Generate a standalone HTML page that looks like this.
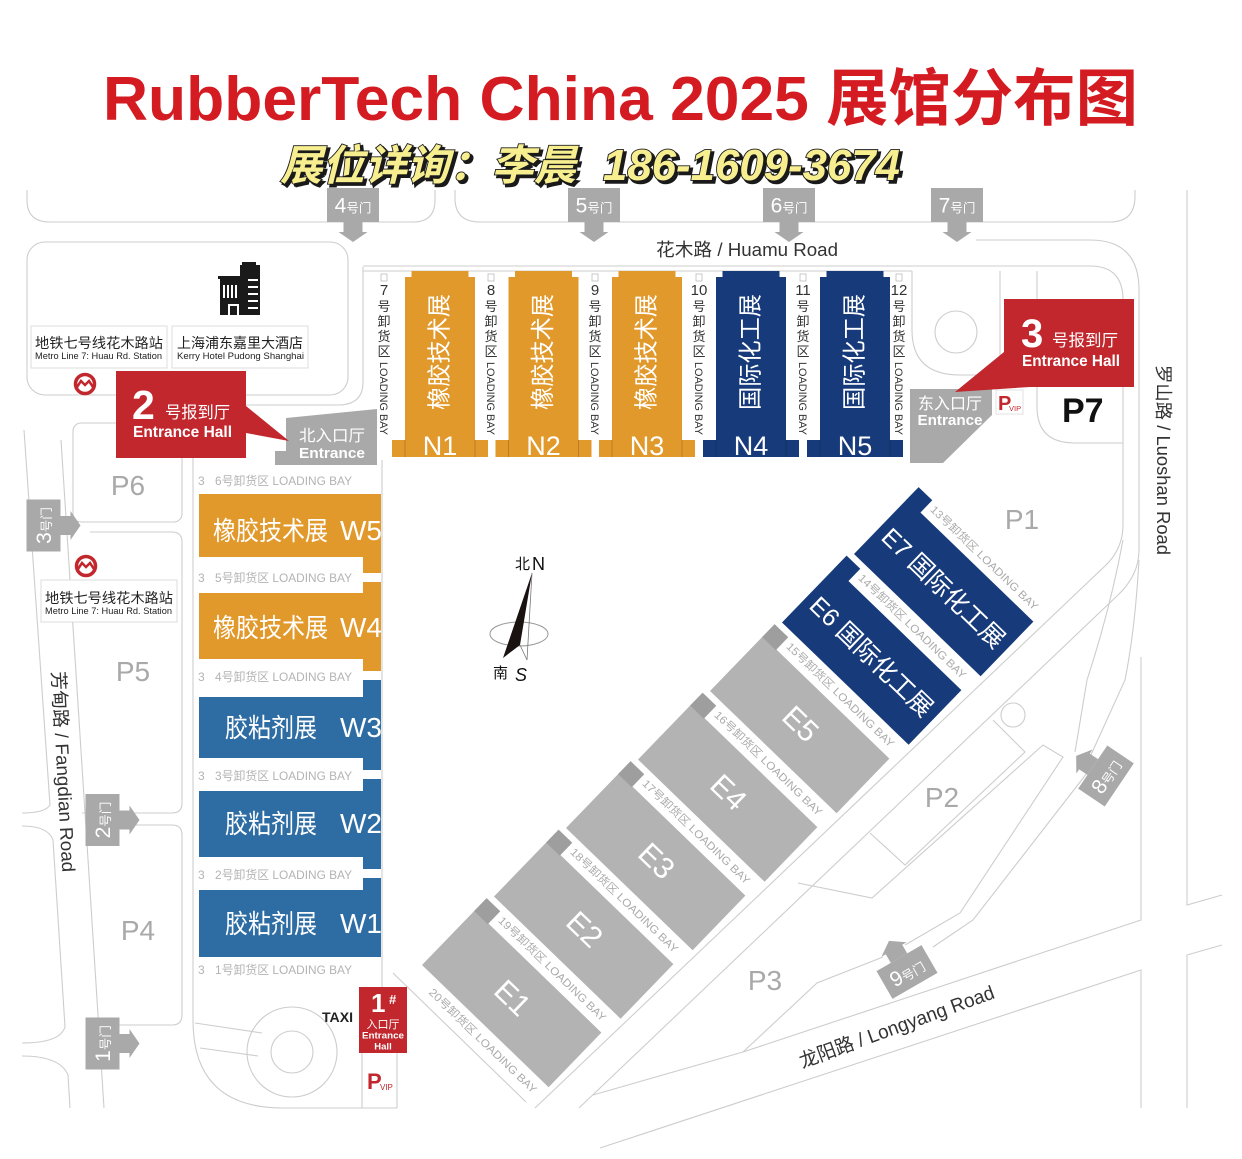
<!DOCTYPE html>
<html><head><meta charset="utf-8">
<style>
html,body{margin:0;padding:0;background:#fff;}
svg{display:block;}
text{font-family:"Liberation Sans","Noto Sans CJK SC",sans-serif;}
</style></head><body>
<svg width="1242" height="1159" viewBox="0 0 1242 1159" xmlns="http://www.w3.org/2000/svg">
<rect width="1242" height="1159" fill="#fff"/>

<!-- TITLE -->
<text x="103" y="120" font-size="62" font-weight="bold" fill="#d41b22" textLength="1035" lengthAdjust="spacingAndGlyphs">RubberTech China 2025 展馆分布图</text>
<g font-style="italic" font-weight="bold">
  <text x="282.5" y="182.5" font-size="42" fill="#1a1a1a" stroke="#1a1a1a" stroke-width="2.5" textLength="296" lengthAdjust="spacingAndGlyphs">展位详询：李晨</text>
  <text x="605.5" y="182.5" font-size="44" fill="#1a1a1a" stroke="#1a1a1a" stroke-width="2.5" textLength="297" lengthAdjust="spacingAndGlyphs">186-1609-3674</text>
  <text x="280" y="180" font-size="42" fill="#f7ee90" stroke="#1a1a1a" stroke-width="1.8" paint-order="stroke" textLength="296" lengthAdjust="spacingAndGlyphs">展位详询：李晨</text>
  <text x="603" y="180" font-size="44" fill="#f7ee90" stroke="#1a1a1a" stroke-width="1.8" paint-order="stroke" textLength="297" lengthAdjust="spacingAndGlyphs">186-1609-3674</text>
</g>

<!-- ROAD LINES -->
<g fill="none" stroke="#cdcdcd" stroke-width="1.1">
  <path d="M27,190 V200 Q27,222 50,222 H413 Q435,222 435,200 V190"/>
  <path d="M455,190 V198 Q455,222 480,222 H1110 Q1135,222 1135,196 V190"/>
  <rect x="27" y="242" width="321" height="153" rx="18"/>
  <path d="M363,267 V382 Q363,405 338,405 H213 Q193,405 193,425 V1020 Q193,1108 283,1108 H397"/>
  <path d="M363,266 H1090 Q1123,266 1123,300 V525 Q1123,549 1105,566 L535,1108"/>
  <path d="M363,271 H912"/>
  <path d="M976,240 H1090 Q1139,240 1139,290 V550 Q1139,575 1118,595 L579,1108"/>
  <path d="M912,271 V330 Q912,375 960,375 H1000 V271"/>
  <circle cx="956" cy="332" r="21"/>
  <path d="M1037,271 V407 Q1037,443 1075,443 H1123"/>
  <path d="M1187,190 V905 L1222,895 M1187,1108 V955 L1222,945"/>
  <path d="M1141,657 V920 L743,1052 L593,1095 M1141,1108 V970 L600,1148"/>
  <path d="M870,833 L905,865 L1025,752 L993,720"/>
  <path d="M798,883 L872,898 L1043,745 L1063,757 L960,913 L905,945"/>
  <path d="M1123,540 Q1110,610 1087,680 L1075,752 M1139,560 Q1135,630 1125,680 L1090,757 M1087,773 L973,920 L933,947"/>
  <circle cx="1013" cy="715" r="12"/>
  <path d="M743,1052 L817,983 L883,957"/>
  <!-- Fangdian road -->
  <path d="M24,430 L50,805 Q45,813 22,813 M22,826 Q48,826 53,840 L65,1027 Q60,1043 22,1043 M22,1056 Q60,1056 68,1075 L70,1108"/>
  <path d="M61,440 L104,1108"/>
  <rect x="73" y="423" width="109" height="99" rx="8"/>
  <path d="M90,532 H172 Q182,532 182,542 V803 Q182,813 172,813 H82"/>
  <path d="M88,825 H172 Q182,825 182,835 V1015 Q182,1025 172,1025 H100"/>
  <!-- roundabout entrance 1 -->
  <circle cx="292" cy="1052" r="45"/>
  <circle cx="292" cy="1052" r="21"/>
  <path d="M195,1023 L262,1033 M200,1048 L258,1056"/>
  <path d="M382,460 V987 M362,1053 V1108 M397,1050 V1108"/>
  <path d="M393,973 L526,1102"/>
</g>

<!-- GATES -->
<g fill="#a9a9a9">
  <g transform="translate(353,205)"><rect x="-26" y="-17" width="52" height="34"/><polygon points="-9.5,17 9.5,17 9.5,27 14.5,27 0,37 -14.5,27 -9.5,27"/><text x="0" y="7.5" text-anchor="middle" fill="#fff"><tspan font-size="21">4</tspan><tspan font-size="12.5">号门</tspan></text></g>
  <g transform="translate(594,205)"><rect x="-26" y="-17" width="52" height="34"/><polygon points="-9.5,17 9.5,17 9.5,27 14.5,27 0,37 -14.5,27 -9.5,27"/><text x="0" y="7.5" text-anchor="middle" fill="#fff"><tspan font-size="21">5</tspan><tspan font-size="12.5">号门</tspan></text></g>
  <g transform="translate(789,205)"><rect x="-26" y="-17" width="52" height="34"/><polygon points="-9.5,17 9.5,17 9.5,27 14.5,27 0,37 -14.5,27 -9.5,27"/><text x="0" y="7.5" text-anchor="middle" fill="#fff"><tspan font-size="21">6</tspan><tspan font-size="12.5">号门</tspan></text></g>
  <g transform="translate(957,205)"><rect x="-26" y="-17" width="52" height="34"/><polygon points="-9.5,17 9.5,17 9.5,27 14.5,27 0,37 -14.5,27 -9.5,27"/><text x="0" y="7.5" text-anchor="middle" fill="#fff"><tspan font-size="21">7</tspan><tspan font-size="12.5">号门</tspan></text></g>
  <g transform="translate(43.5,525.5) rotate(-90)"><rect x="-26" y="-17" width="52" height="34"/><polygon points="-9.5,17 9.5,17 9.5,27 14.5,27 0,37 -14.5,27 -9.5,27"/><text x="0" y="7.5" text-anchor="middle" fill="#fff"><tspan font-size="21">3</tspan><tspan font-size="12.5">号门</tspan></text></g>
  <g transform="translate(102.5,820) rotate(-90)"><rect x="-26" y="-17" width="52" height="34"/><polygon points="-9.5,17 9.5,17 9.5,27 14.5,27 0,37 -14.5,27 -9.5,27"/><text x="0" y="7.5" text-anchor="middle" fill="#fff"><tspan font-size="21">2</tspan><tspan font-size="12.5">号门</tspan></text></g>
  <g transform="translate(102.5,1043.5) rotate(-90)"><rect x="-26" y="-17" width="52" height="34"/><polygon points="-9.5,17 9.5,17 9.5,27 14.5,27 0,37 -14.5,27 -9.5,27"/><text x="0" y="7.5" text-anchor="middle" fill="#fff"><tspan font-size="21">1</tspan><tspan font-size="12.5">号门</tspan></text></g>
  <g transform="translate(1106,776) rotate(-56)"><rect x="-26" y="-16" width="52" height="32"/><polygon points="-9.5,-16 9.5,-16 9.5,-26 14.5,-26 0,-36 -14.5,-26 -9.5,-26"/><text x="0" y="7.5" text-anchor="middle" fill="#fff"><tspan font-size="21">8</tspan><tspan font-size="12.5">号门</tspan></text></g>
  <g transform="translate(907,972) rotate(-30)"><rect x="-26" y="-16" width="52" height="32"/><polygon points="-9.5,-16 9.5,-16 9.5,-26 14.5,-26 0,-36 -14.5,-26 -9.5,-26"/><text x="0" y="7.5" text-anchor="middle" fill="#fff"><tspan font-size="21">9</tspan><tspan font-size="12.5">号门</tspan></text></g>
</g>

<!-- ROAD NAMES -->
<text x="656" y="256" font-size="18" fill="#333" textLength="182" lengthAdjust="spacingAndGlyphs">花木路 / Huamu Road</text>
<text transform="translate(1157,460) rotate(90)" x="0" y="0" text-anchor="middle" font-size="18" fill="#333" textLength="190" lengthAdjust="spacingAndGlyphs">罗山路 / Luoshan Road</text>
<text transform="translate(57,772) rotate(87)" x="0" y="0" text-anchor="middle" font-size="18.5" fill="#333" textLength="201" lengthAdjust="spacingAndGlyphs">芳甸路 / Fangdian Road</text>
<text transform="translate(899,1033) rotate(-20)" x="0" y="0" text-anchor="middle" font-size="19.5" fill="#333" textLength="206" lengthAdjust="spacingAndGlyphs">龙阳路 / Longyang Road</text>

<!-- LEFT BLOCK: hotel + metro -->
<g fill="#1a1a1a">
  <rect x="240" y="265" width="20" height="50"/>
  <rect x="242" y="262" width="14" height="3"/>
  <rect x="220" y="278" width="22" height="37"/>
  <rect x="218" y="276" width="25" height="3"/>
</g>
<g fill="#fff">
  <rect x="223" y="285" width="2" height="13"/><rect x="227" y="285" width="2" height="13"/><rect x="231" y="285" width="2" height="13"/><rect x="235" y="285" width="2" height="13"/>
  <rect x="228" y="304" width="11" height="11"/>
  <rect x="248" y="279" width="10" height="2"/><rect x="248" y="286" width="10" height="2"/><rect x="248" y="293" width="10" height="2"/><rect x="248" y="300" width="10" height="2"/><rect x="248" y="307" width="10" height="2"/>
</g>
<rect x="230" y="306" width="7" height="9" fill="#1a1a1a"/>
<rect x="31" y="326" width="136" height="42" fill="#fff" stroke="#dcdcdc"/>
<rect x="172" y="326" width="136" height="42" fill="#fff" stroke="#dcdcdc"/>
<text x="35" y="348" font-size="14" fill="#222" textLength="128" lengthAdjust="spacingAndGlyphs">地铁七号线花木路站</text>
<text x="35" y="359" font-size="9.5" fill="#222" textLength="127" lengthAdjust="spacingAndGlyphs">Metro Line 7: Huau Rd. Station</text>
<text x="177" y="348" font-size="14" fill="#222" textLength="126" lengthAdjust="spacingAndGlyphs">上海浦东嘉里大酒店</text>
<text x="177" y="359" font-size="9.5" fill="#222" textLength="127" lengthAdjust="spacingAndGlyphs">Kerry Hotel Pudong Shanghai</text>
<circle cx="85" cy="384" r="9.5" fill="#fff" stroke="#c1272d" stroke-width="3.5"/>
<path d="M77,387 L81,381 L85,385 L89,381 L93,387" fill="none" stroke="#c1272d" stroke-width="2.5"/>
<circle cx="86" cy="566" r="9.5" fill="#fff" stroke="#c1272d" stroke-width="3.5"/>
<path d="M78,569 L82,563 L86,567 L90,563 L94,569" fill="none" stroke="#c1272d" stroke-width="2.5"/>
<rect x="41" y="580" width="136" height="42" fill="#fff" stroke="#dcdcdc"/>
<text x="45" y="603" font-size="14" fill="#222" textLength="128" lengthAdjust="spacingAndGlyphs">地铁七号线花木路站</text>
<text x="45" y="614" font-size="9.5" fill="#222" textLength="127" lengthAdjust="spacingAndGlyphs">Metro Line 7: Huau Rd. Station</text>

<!-- P labels -->
<g fill="#a9a9a9" font-size="28" text-anchor="middle">
  <text x="128" y="495">P6</text>
  <text x="133" y="681">P5</text>
  <text x="138" y="940">P4</text>
  <text x="1022" y="529">P1</text>
  <text x="942" y="807">P2</text>
  <text x="765" y="990">P3</text>
</g>
<text x="1062" y="422" font-size="34" font-weight="bold" fill="#111">P7</text>

<!-- N HALLS -->
<g>
  <g fill="#e2992b">
    <rect x="411.5" y="271" width="57" height="7"/><rect x="405" y="277" width="70" height="164"/><rect x="392" y="440" width="96" height="17"/>
    <rect x="515" y="271" width="57" height="7"/><rect x="508.5" y="277" width="70" height="164"/><rect x="495.5" y="440" width="96" height="17"/>
    <rect x="618.5" y="271" width="57" height="7"/><rect x="612" y="277" width="70" height="164"/><rect x="599" y="440" width="96" height="17"/>
  </g>
  <g fill="#173b7a">
    <rect x="722.5" y="271" width="57" height="7"/><rect x="716" y="277" width="70" height="164"/><rect x="703" y="440" width="96" height="17"/>
    <rect x="826.5" y="271" width="57" height="7"/><rect x="820" y="277" width="70" height="164"/><rect x="807" y="440" width="96" height="17"/>
  </g>
  <g stroke="rgba(0,0,0,0.18)" stroke-width="1">
    <path d="M405,440 V457 M475,440 V457 M508.5,440 V457 M578.5,440 V457 M612,440 V457 M682,440 V457 M716,440 V457 M786,440 V457 M820,440 V457 M890,440 V457"/>
  </g>
  <g fill="#fff" font-size="24" text-anchor="middle" dominant-baseline="central">
    <text transform="translate(440,352) rotate(-90)" textLength="116" lengthAdjust="spacingAndGlyphs">橡胶技术展</text>
    <text transform="translate(543.5,352) rotate(-90)" textLength="116" lengthAdjust="spacingAndGlyphs">橡胶技术展</text>
    <text transform="translate(647,352) rotate(-90)" textLength="116" lengthAdjust="spacingAndGlyphs">橡胶技术展</text>
    <text transform="translate(751,352) rotate(-90)" textLength="116" lengthAdjust="spacingAndGlyphs">国际化工展</text>
    <text transform="translate(855,352) rotate(-90)" textLength="116" lengthAdjust="spacingAndGlyphs">国际化工展</text>
  </g>
  <g fill="#fff" font-size="27" text-anchor="middle">
    <text x="440" y="455">N1</text>
    <text x="543.5" y="455">N2</text>
    <text x="647" y="455">N3</text>
    <text x="751" y="455">N4</text>
    <text x="855" y="455">N5</text>
  </g>
</g>

<!-- N loading bay labels -->
<g fill="#333" text-anchor="middle">
  <g font-size="15"><text x="384" y="295">7</text><text x="491" y="295">8</text><text x="595" y="295">9</text><text x="699" y="295">10</text><text x="803" y="295">11</text><text x="899" y="295">12</text></g>
  <g font-size="13">
    <text x="384" y="311">号</text><text x="384" y="326">卸</text><text x="384" y="341">货</text><text x="384" y="356">区</text>
    <text x="491" y="311">号</text><text x="491" y="326">卸</text><text x="491" y="341">货</text><text x="491" y="356">区</text>
    <text x="595" y="311">号</text><text x="595" y="326">卸</text><text x="595" y="341">货</text><text x="595" y="356">区</text>
    <text x="699" y="311">号</text><text x="699" y="326">卸</text><text x="699" y="341">货</text><text x="699" y="356">区</text>
    <text x="803" y="311">号</text><text x="803" y="326">卸</text><text x="803" y="341">货</text><text x="803" y="356">区</text>
    <text x="899" y="311">号</text><text x="899" y="326">卸</text><text x="899" y="341">货</text><text x="899" y="356">区</text>
  </g>
</g>
<g fill="#333" font-size="11">
  <text transform="translate(380,362) rotate(90)" textLength="73" lengthAdjust="spacingAndGlyphs">LOADING BAY</text>
  <text transform="translate(487,362) rotate(90)" textLength="73" lengthAdjust="spacingAndGlyphs">LOADING BAY</text>
  <text transform="translate(591,362) rotate(90)" textLength="73" lengthAdjust="spacingAndGlyphs">LOADING BAY</text>
  <text transform="translate(695,362) rotate(90)" textLength="73" lengthAdjust="spacingAndGlyphs">LOADING BAY</text>
  <text transform="translate(799,362) rotate(90)" textLength="73" lengthAdjust="spacingAndGlyphs">LOADING BAY</text>
  <text transform="translate(895,362) rotate(90)" textLength="73" lengthAdjust="spacingAndGlyphs">LOADING BAY</text>
</g>
<g fill="none" stroke="#bbb" stroke-width="0.8">
  <rect x="381" y="274" width="6" height="7"/><rect x="488" y="274" width="6" height="7"/><rect x="592" y="274" width="6" height="7"/><rect x="696" y="274" width="6" height="7"/><rect x="800" y="274" width="6" height="7"/><rect x="896" y="274" width="6" height="7"/>
</g>

<!-- ENTRANCES -->
<polygon points="286,418 377,409 377,465 275,465 275,451 286,451" fill="#a9a9a9"/>
<text x="332" y="441" font-size="16" fill="#fff" text-anchor="middle" textLength="66" lengthAdjust="spacingAndGlyphs">北入口厅</text>
<text x="332" y="458" font-size="15" font-weight="bold" fill="#fff" text-anchor="middle" textLength="66" lengthAdjust="spacingAndGlyphs">Entrance</text>

<polygon points="910,389 992,389 992,415 943,463 910,463" fill="#a9a9a9"/>
<text x="950" y="409" font-size="16" fill="#fff" text-anchor="middle" textLength="64" lengthAdjust="spacingAndGlyphs">东入口厅</text>
<text x="950" y="425" font-size="15" font-weight="bold" fill="#fff" text-anchor="middle" textLength="65" lengthAdjust="spacingAndGlyphs">Entrance</text>

<rect x="996" y="390" width="27" height="24" fill="#fff" stroke="#e0e0e0"/>
<text x="998" y="410" font-size="20" font-weight="bold" fill="#c1272d">P</text>
<text x="1009" y="411" font-size="7.5" fill="#c1272d">VIP</text>

<!-- Entrance hall 2 -->
<polygon points="246,406 289,441 246,433" fill="#c1272d"/>
<rect x="116" y="371" width="130" height="87" fill="#c1272d"/>
<text x="132" y="419" font-size="41" font-weight="bold" fill="#fff">2</text>
<text x="165" y="418" font-size="16.5" fill="#fff" textLength="65" lengthAdjust="spacingAndGlyphs">号报到厅</text>
<text x="133" y="437" font-size="15.5" font-weight="bold" fill="#fff" textLength="99" lengthAdjust="spacingAndGlyphs">Entrance Hall</text>

<!-- Entrance hall 3 -->
<polygon points="1004,352 955,392 1030,387" fill="#c1272d"/>
<rect x="1004" y="299" width="130" height="88" fill="#c1272d"/>
<text x="1021" y="347" font-size="40" font-weight="bold" fill="#fff">3</text>
<text x="1052" y="346" font-size="16.5" fill="#fff" textLength="66" lengthAdjust="spacingAndGlyphs">号报到厅</text>
<text x="1022" y="366" font-size="15.5" font-weight="bold" fill="#fff" textLength="98" lengthAdjust="spacingAndGlyphs">Entrance Hall</text>

<!-- Entrance hall 1 -->
<rect x="359" y="987" width="48" height="66" fill="#c1272d"/>
<text x="371" y="1012" font-size="26" font-weight="bold" fill="#fff">1</text>
<text x="389" y="1004" font-size="13" font-weight="bold" fill="#fff">#</text>
<text x="383" y="1028" font-size="11" fill="#fff" text-anchor="middle">入口厅</text>
<text x="383" y="1038.5" font-size="9.5" font-weight="bold" fill="#fff" text-anchor="middle" textLength="42" lengthAdjust="spacingAndGlyphs">Entrance</text>
<text x="383" y="1049.5" font-size="9.5" font-weight="bold" fill="#fff" text-anchor="middle">Hall</text>
<text x="322" y="1022" font-size="13.5" font-weight="bold" fill="#222" textLength="31" lengthAdjust="spacingAndGlyphs">TAXI</text>
<text x="367" y="1089" font-size="22" font-weight="bold" fill="#c1272d">P</text>
<text x="380" y="1090" font-size="8" fill="#c1272d">VIP</text>

<!-- W HALLS -->
<g fill="#e2992b">
  <rect x="199" y="494" width="182" height="63"/><rect x="363" y="556" width="18" height="17"/>
  <rect x="363" y="582" width="18" height="12"/><rect x="199" y="593" width="182" height="66"/><rect x="363" y="658" width="18" height="13"/>
</g>
<g fill="#2e6da4">
  <rect x="363" y="680" width="18" height="18"/><rect x="199" y="697" width="182" height="61"/><rect x="363" y="757" width="18" height="13"/>
  <rect x="363" y="779" width="18" height="13"/><rect x="199" y="791" width="182" height="66"/><rect x="363" y="856" width="18" height="13"/>
  <rect x="363" y="878" width="18" height="13"/><rect x="199" y="890" width="182" height="67"/>
</g>
<g fill="#fff">
  <text x="213" y="540" font-size="26" textLength="115" lengthAdjust="spacingAndGlyphs">橡胶技术展</text>
  <text x="340" y="540" font-size="28">W5</text>
  <text x="213" y="637" font-size="26" textLength="115" lengthAdjust="spacingAndGlyphs">橡胶技术展</text>
  <text x="340" y="637" font-size="28">W4</text>
  <text x="225" y="737" font-size="26" textLength="92" lengthAdjust="spacingAndGlyphs">胶粘剂展</text>
  <text x="340" y="737" font-size="28">W3</text>
  <text x="225" y="833" font-size="26" textLength="92" lengthAdjust="spacingAndGlyphs">胶粘剂展</text>
  <text x="340" y="833" font-size="28">W2</text>
  <text x="225" y="933" font-size="26" textLength="92" lengthAdjust="spacingAndGlyphs">胶粘剂展</text>
  <text x="340" y="933" font-size="28">W1</text>
</g>
<g fill="#b3b3b3" font-size="12">
  <text x="198" y="485">3</text><text x="215" y="485" textLength="137" lengthAdjust="spacingAndGlyphs">6号卸货区 LOADING BAY</text>
  <text x="198" y="582">3</text><text x="215" y="582" textLength="137" lengthAdjust="spacingAndGlyphs">5号卸货区 LOADING BAY</text>
  <text x="198" y="681">3</text><text x="215" y="681" textLength="137" lengthAdjust="spacingAndGlyphs">4号卸货区 LOADING BAY</text>
  <text x="198" y="780">3</text><text x="215" y="780" textLength="137" lengthAdjust="spacingAndGlyphs">3号卸货区 LOADING BAY</text>
  <text x="198" y="879">3</text><text x="215" y="879" textLength="137" lengthAdjust="spacingAndGlyphs">2号卸货区 LOADING BAY</text>
  <text x="198" y="974">3</text><text x="215" y="974" textLength="137" lengthAdjust="spacingAndGlyphs">1号卸货区 LOADING BAY</text>
</g>

<!-- E HALLS -->
<g transform="translate(422,965) rotate(44)">
  <rect x="0" y="-76" width="176" height="76" fill="#b3b3b3"/><rect x="0" y="-93" width="19" height="18" fill="#9e9e9e"/>
  <text x="88" y="-29" font-size="30" text-anchor="middle" fill="#fff">E1</text>
  <text x="24" y="-84" font-size="11" fill="#ababab" textLength="145" lengthAdjust="spacingAndGlyphs">19号卸货区 LOADING BAY</text>
  <text x="24" y="16" font-size="11" fill="#ababab" textLength="145" lengthAdjust="spacingAndGlyphs">20号卸货区 LOADING BAY</text>
</g>
<g transform="translate(494,896.5) rotate(44)">
  <rect x="0" y="-76" width="176" height="76" fill="#b3b3b3"/><rect x="0" y="-93" width="19" height="18" fill="#9e9e9e"/>
  <text x="88" y="-29" font-size="30" text-anchor="middle" fill="#fff">E2</text>
  <text x="24" y="-84" font-size="11" fill="#ababab" textLength="145" lengthAdjust="spacingAndGlyphs">18号卸货区 LOADING BAY</text>
</g>
<g transform="translate(566,828) rotate(44)">
  <rect x="0" y="-76" width="176" height="76" fill="#b3b3b3"/><rect x="0" y="-93" width="19" height="18" fill="#9e9e9e"/>
  <text x="88" y="-29" font-size="30" text-anchor="middle" fill="#fff">E3</text>
  <text x="24" y="-84" font-size="11" fill="#ababab" textLength="145" lengthAdjust="spacingAndGlyphs">17号卸货区 LOADING BAY</text>
</g>
<g transform="translate(638,759.5) rotate(44)">
  <rect x="0" y="-76" width="176" height="76" fill="#b3b3b3"/><rect x="0" y="-93" width="19" height="18" fill="#9e9e9e"/>
  <text x="88" y="-29" font-size="30" text-anchor="middle" fill="#fff">E4</text>
  <text x="24" y="-84" font-size="11" fill="#ababab" textLength="145" lengthAdjust="spacingAndGlyphs">16号卸货区 LOADING BAY</text>
</g>
<g transform="translate(710,691) rotate(44)">
  <rect x="0" y="-76" width="176" height="76" fill="#b3b3b3"/><rect x="0" y="-93" width="19" height="18" fill="#9e9e9e"/>
  <text x="88" y="-29" font-size="30" text-anchor="middle" fill="#fff">E5</text>
  <text x="24" y="-84" font-size="11" fill="#ababab" textLength="145" lengthAdjust="spacingAndGlyphs">15号卸货区 LOADING BAY</text>
</g>
<g transform="translate(782,622.5) rotate(44)">
  <rect x="0" y="-76" width="176" height="76" fill="#173b7a"/><rect x="0" y="-93" width="19" height="18" fill="#173b7a"/>
  <text x="88" y="-29" font-size="25" text-anchor="middle" fill="#fff" textLength="160" lengthAdjust="spacingAndGlyphs">E6 国际化工展</text>
  <text x="24" y="-84" font-size="11" fill="#ababab" textLength="145" lengthAdjust="spacingAndGlyphs">14号卸货区 LOADING BAY</text>
</g>
<g transform="translate(854,554) rotate(44)">
  <rect x="0" y="-76" width="176" height="76" fill="#173b7a"/><rect x="0" y="-93" width="19" height="18" fill="#173b7a"/>
  <text x="88" y="-29" font-size="25" text-anchor="middle" fill="#fff" textLength="160" lengthAdjust="spacingAndGlyphs">E7 国际化工展</text>
  <text x="24" y="-84" font-size="11" fill="#ababab" textLength="145" lengthAdjust="spacingAndGlyphs">13号卸货区 LOADING BAY</text>
</g>

<!-- COMPASS -->
<ellipse cx="519" cy="634" rx="29" ry="12" fill="none" stroke="#999" stroke-width="1"/>
<polyline points="532,573 527,660 520,645" fill="none" stroke="#777" stroke-width="0.8"/>
<polygon points="532,573 503,658 520,645" fill="#1a1111"/>
<text x="515" y="569" font-size="15" fill="#111">北</text>
<text x="532" y="570" font-size="18" fill="#111">N</text>
<text x="493" y="678" font-size="15" fill="#111">南</text>
<text x="515" y="681" font-size="18" font-style="italic" fill="#111">S</text>
</svg>
</body></html>
